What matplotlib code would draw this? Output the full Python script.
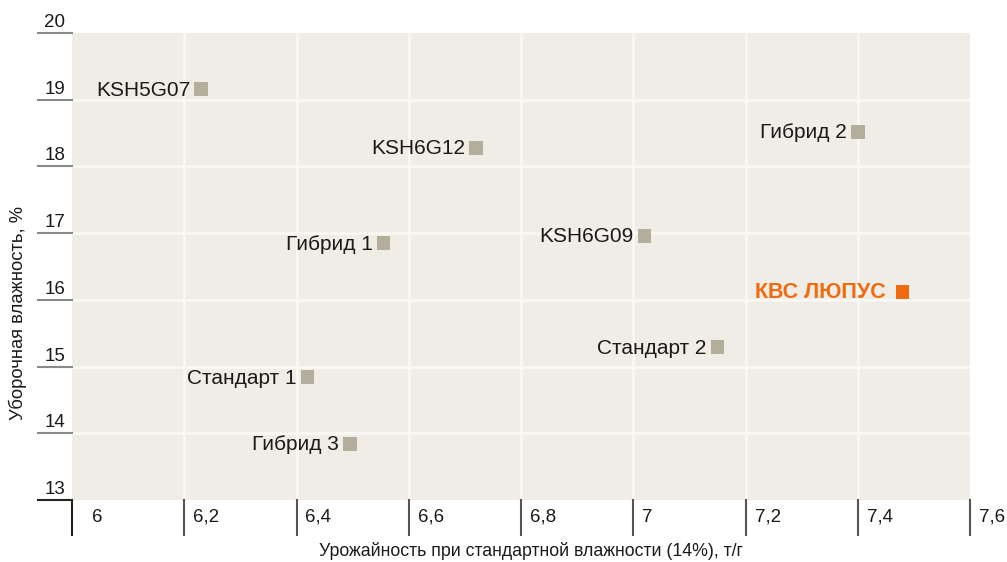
import matplotlib
matplotlib.use("Agg")
import matplotlib.pyplot as plt
import matplotlib.transforms as mtransforms

plt.rcParams['font.family'] = ['Liberation Sans', 'DejaVu Sans']

names = ["KSH5G07", "KSH6G12", "Гибрид 2", "Гибрид 1", "KSH6G09",
         "КВС ЛЮПУС", "Стандарт 2", "Стандарт 1", "Гибрид 3"]
yield_t = [6.23, 6.72, 7.40, 6.555, 7.02, 7.48, 7.15, 6.42, 6.495]
moisture = [19.16, 18.28, 18.52, 16.85, 16.96, 16.12, 15.29, 14.84, 13.84]
highlight = "КВС ЛЮПУС"

x_ticks = [6, 6.2, 6.4, 6.6, 6.8, 7, 7.2, 7.4, 7.6]
x_tick_labels = ["6", "6,2", "6,4", "6,6", "6,8", "7", "7,2", "7,4", "7,6"]
y_ticks = [13, 14, 15, 16, 17, 18, 19, 20]
y_tick_labels = ["13", "14", "15", "16", "17", "18", "19", "20"]

x_label = "Урожайность при стандартной влажности (14%), т/г"
y_label = "Уборочная влажность, %"

W, H = 1007, 562
fig = plt.figure(figsize=(W / 100, H / 100), dpi=100)
ax = fig.add_axes([72 / W, (H - 500) / H, (970 - 72) / W, (500 - 33) / H])
ax.set_xlim(6, 7.6)
ax.set_ylim(13, 20)
ax.set_facecolor("#f0ede6")
for s in ax.spines.values():
    s.set_visible(False)

# grid
for xv in x_ticks[1:-1]:
    ax.axvline(xv, color="#f9f8f4", lw=2, zorder=1)
for yv in y_ticks[1:-1]:
    ax.axhline(yv, color="#f9f8f4", lw=2, zorder=1)

ax.set_xticks([])
ax.set_yticks([])

# custom ticks
ytr = mtransforms.blended_transform_factory(fig.transFigure, ax.transData)
for yv, lab in zip(y_ticks, y_tick_labels):
    col = "#222222" if yv == y_ticks[0] else "#8a8a8a"
    ax.plot([38 / W, 72 / W], [yv, yv], transform=ytr, color=col, lw=1.5,
            clip_on=False, zorder=3)
    ax.annotate(lab, xy=(65 / W, yv), xycoords=ytr,
                xytext=(0, 2), textcoords="offset pixels",
                ha="right", va="bottom", fontsize=13.5, color="#1a1a1a",
                annotation_clip=False)

xtr = mtransforms.blended_transform_factory(ax.transData, fig.transFigure)
for xv, lab in zip(x_ticks, x_tick_labels):
    col = "#222222" if xv == x_ticks[0] else "#555555"
    ax.plot([xv, xv], [(H - 500) / H, (H - 535) / H], transform=xtr,
            color=col, lw=1.5, clip_on=False, zorder=3)
    ax.annotate(lab, xy=(xv, (H - 517) / H), xycoords=xtr,
                xytext=(20 if xv == x_ticks[0] else 9, 0),
                textcoords="offset pixels",
                ha="left", va="center", fontsize=13.5, color="#1a1a1a",
                annotation_clip=False)

# points
for n, xv, yv in zip(names, yield_t, moisture):
    hl = n == highlight
    ax.scatter([xv], [yv], marker="s", s=95,
               color="#f06b0f" if hl else "#b3ae9c", zorder=4,
               edgecolors="none")
    ax.annotate(n, xy=(xv, yv), xytext=(-17 if hl else -11, -1),
                textcoords="offset pixels", ha="right", va="center",
                fontsize=15.5 if hl else 15,
                fontweight="bold" if hl else "normal",
                color="#f06b0f" if hl else "#1a1a1a", zorder=5)

fig.text(531 / W, (H - 551) / H, x_label, ha="center", va="center",
         fontsize=12.8, color="#1a1a1a")
fig.text(18 / W, (H - 313) / H, y_label, ha="center", va="center",
         rotation=90, fontsize=13.2, color="#1a1a1a")

fig.savefig("out.png", dpi=100)
